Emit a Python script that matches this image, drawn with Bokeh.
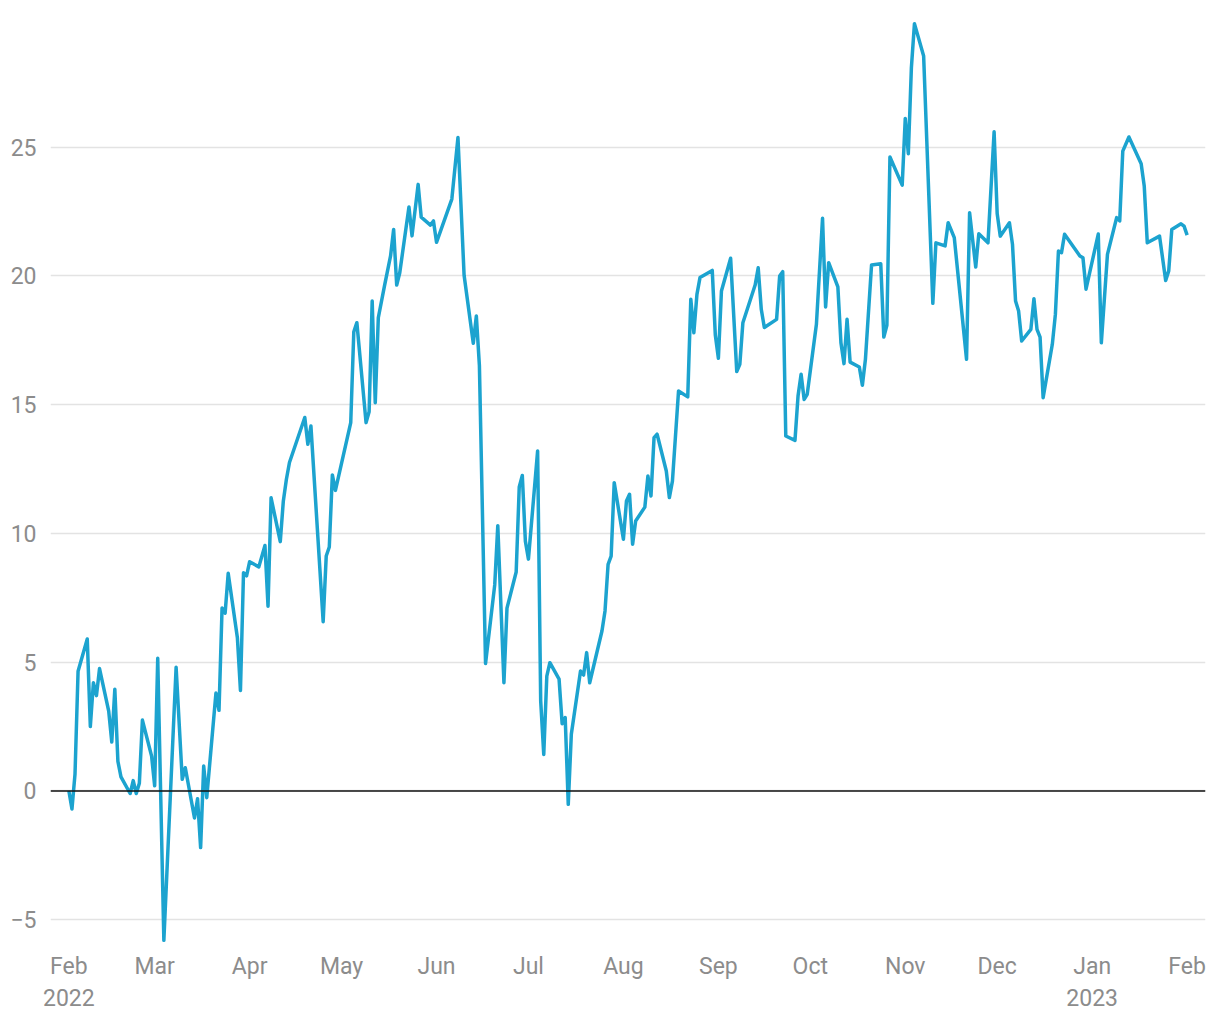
import pandas as pd
from bokeh.plotting import figure
from bokeh.models import Span, FixedTicker, Range1d, ColumnDataSource
from bokeh.embed import file_html
from bokeh.resources import INLINE

dates = [
    "2022-02-01", "2022-02-02", "2022-02-03", "2022-02-04", "2022-02-07", "2022-02-08", "2022-02-09",
    "2022-02-10", "2022-02-11", "2022-02-14", "2022-02-15", "2022-02-16", "2022-02-17", "2022-02-18",
    "2022-02-21", "2022-02-22", "2022-02-23", "2022-02-24", "2022-02-25", "2022-02-28", "2022-03-01",
    "2022-03-02", "2022-03-04", "2022-03-08", "2022-03-10", "2022-03-11", "2022-03-14", "2022-03-15",
    "2022-03-16", "2022-03-17", "2022-03-18", "2022-03-21", "2022-03-22", "2022-03-23", "2022-03-24",
    "2022-03-25", "2022-03-28", "2022-03-29", "2022-03-30", "2022-03-31", "2022-04-01", "2022-04-04",
    "2022-04-06", "2022-04-07", "2022-04-08", "2022-04-11", "2022-04-12", "2022-04-13", "2022-04-14",
    "2022-04-19", "2022-04-20", "2022-04-21", "2022-04-25", "2022-04-26", "2022-04-27", "2022-04-28",
    "2022-04-29", "2022-05-04", "2022-05-05", "2022-05-06", "2022-05-09", "2022-05-10", "2022-05-11",
    "2022-05-12", "2022-05-13", "2022-05-15", "2022-05-17", "2022-05-18", "2022-05-19", "2022-05-20",
    "2022-05-23", "2022-05-24", "2022-05-26", "2022-05-27", "2022-05-30", "2022-05-31", "2022-06-01",
    "2022-06-06", "2022-06-08", "2022-06-10", "2022-06-13", "2022-06-14", "2022-06-15", "2022-06-17",
    "2022-06-20", "2022-06-21", "2022-06-23", "2022-06-24", "2022-06-27", "2022-06-28", "2022-06-29",
    "2022-06-30", "2022-07-01", "2022-07-04", "2022-07-05", "2022-07-06", "2022-07-07", "2022-07-08",
    "2022-07-11", "2022-07-12", "2022-07-13", "2022-07-14", "2022-07-15", "2022-07-18", "2022-07-19",
    "2022-07-20", "2022-07-21", "2022-07-25", "2022-07-26", "2022-07-27", "2022-07-28", "2022-07-29",
    "2022-08-01", "2022-08-02", "2022-08-03", "2022-08-04", "2022-08-05", "2022-08-08", "2022-08-09",
    "2022-08-10", "2022-08-11", "2022-08-12", "2022-08-15", "2022-08-16", "2022-08-17", "2022-08-19",
    "2022-08-22", "2022-08-23", "2022-08-24", "2022-08-25", "2022-08-26", "2022-08-30", "2022-08-31",
    "2022-09-01", "2022-09-02", "2022-09-05", "2022-09-07", "2022-09-08", "2022-09-09", "2022-09-13",
    "2022-09-14", "2022-09-15", "2022-09-16", "2022-09-20", "2022-09-21", "2022-09-22", "2022-09-23",
    "2022-09-26", "2022-09-27", "2022-09-28", "2022-09-29", "2022-09-30", "2022-10-03", "2022-10-05",
    "2022-10-06", "2022-10-07", "2022-10-10", "2022-10-11", "2022-10-12", "2022-10-13", "2022-10-14",
    "2022-10-17", "2022-10-18", "2022-10-19", "2022-10-21", "2022-10-24", "2022-10-25", "2022-10-26",
    "2022-10-27", "2022-10-31", "2022-11-01", "2022-11-02", "2022-11-03", "2022-11-04", "2022-11-07",
    "2022-11-10", "2022-11-11", "2022-11-14", "2022-11-15", "2022-11-17", "2022-11-21", "2022-11-22",
    "2022-11-24", "2022-11-25", "2022-11-28", "2022-11-30", "2022-12-01", "2022-12-02", "2022-12-05",
    "2022-12-06", "2022-12-07", "2022-12-08", "2022-12-09", "2022-12-12", "2022-12-13", "2022-12-14",
    "2022-12-15", "2022-12-16", "2022-12-19", "2022-12-20", "2022-12-21", "2022-12-22", "2022-12-23",
    "2022-12-28", "2022-12-29", "2022-12-30", "2023-01-03", "2023-01-04", "2023-01-06", "2023-01-09",
    "2023-01-10", "2023-01-11", "2023-01-13", "2023-01-17", "2023-01-18", "2023-01-19", "2023-01-23",
    "2023-01-25", "2023-01-26", "2023-01-27", "2023-01-30", "2023-01-31", "2023-02-01",
]

values = [
    0.0, -0.7, 0.65, 4.65, 5.9, 2.5, 4.2,
    3.7, 4.75, 3.1, 1.9, 3.95, 1.15, 0.55,
    -0.1, 0.4, -0.1, 0.3, 2.75, 1.35, 0.2,
    5.15, -5.8, 4.8, 0.45, 0.9, -1.05, -0.3,
    -2.2, 0.97, -0.26, 3.8, 3.13, 7.1, 6.9,
    8.45, 5.95, 3.9, 8.47, 8.35, 8.9, 8.7,
    9.53, 7.17, 11.38, 9.68, 11.26, 12.1, 12.75,
    14.5, 13.46, 14.17, 6.57, 9.12, 9.47, 12.27,
    11.67, 14.3, 17.83, 18.18, 14.3, 14.72, 19.02,
    15.07, 18.37, 19.6, 20.77, 21.8, 19.64, 20.12,
    22.67, 21.55, 23.55, 22.28, 21.97, 22.13, 21.3,
    22.98, 25.37, 20.02, 17.38, 18.44, 16.5, 4.95,
    8.0, 10.3, 4.2, 7.1, 8.5, 11.8, 12.25,
    9.7, 9.0, 13.2, 3.5, 1.42, 4.46, 4.98,
    4.34, 2.61, 2.85, -0.52, 2.2, 4.66, 4.5,
    5.37, 4.2, 6.21, 6.99, 8.8, 9.12, 11.97,
    9.77, 11.26, 11.52, 9.58, 10.48, 11.02, 12.23,
    11.45, 13.72, 13.85, 12.42, 11.39, 12.03, 15.53,
    15.3, 19.09, 17.79, 19.28, 19.93, 20.21, 17.7,
    16.8, 19.41, 20.68, 16.28, 16.56, 18.18, 19.64,
    20.31, 18.7, 17.99, 18.31, 19.99, 20.16, 13.78,
    13.61, 15.33, 16.18, 15.2, 15.4, 18.12, 22.23,
    18.79, 20.51, 19.57, 17.4, 16.59, 18.31, 16.65,
    16.46, 15.75, 16.76, 20.42, 20.47, 17.62, 18.08,
    24.61, 23.52, 26.11, 24.74, 28.08, 29.79, 28.53,
    18.93, 21.28, 21.16, 22.06, 21.48, 16.76, 22.45,
    20.34, 21.63, 21.28, 25.59, 22.42, 21.54, 22.06,
    21.22, 19.02, 18.63, 17.47, 17.92, 19.11, 17.92,
    17.62, 15.27, 17.34, 18.5, 20.96, 20.9, 21.61,
    20.77, 20.7, 19.48, 21.62, 17.4, 20.83, 22.26,
    22.13, 24.84, 25.39, 24.35, 23.49, 21.28, 21.54,
    19.82, 20.19, 21.8, 22.02, 21.93, 21.58,
]

tick_dates = ["2022-02-01", "2022-03-01", "2022-04-01", "2022-05-01", "2022-06-01", "2022-07-01",
              "2022-08-01", "2022-09-01", "2022-10-01", "2022-11-01", "2022-12-01", "2023-01-01",
              "2023-02-01"]
tick_labels = ["Feb\n2022", "Mar", "Apr", "May", "Jun", "Jul", "Aug", "Sep", "Oct", "Nov", "Dec",
               "Jan\n2023", "Feb"]
y_ticks = [-5, 0, 5, 10, 15, 20, 25]
y_labels = ["\u22125", "0", "5", "10", "15", "20", "25"]


def ms(s):
    return int(pd.Timestamp(s).value // 10**6)


src = ColumnDataSource(dict(date=pd.to_datetime(dates), value=values))

p = figure(width=1220, height=1020, x_axis_type="datetime", output_backend="svg",
           toolbar_location=None,
           x_range=Range1d(ms("2022-01-26"), ms("2023-02-07")),
           y_range=Range1d(-6.0, 30.3),
           min_border_left=50, min_border_right=15, min_border_top=10, min_border_bottom=75)
p.outline_line_color = None
p.background_fill_color = "white"
p.border_fill_color = "white"

p.line("date", "value", source=src, line_color="#1ca3cf", line_width=3.5, line_join="round")

p.add_layout(Span(location=0, dimension="width", line_color="#111111", line_width=1.6))

p.xaxis.ticker = FixedTicker(ticks=[ms(d) for d in tick_dates])
p.xaxis.major_label_overrides = {ms(d): l for d, l in zip(tick_dates, tick_labels)}
p.yaxis.ticker = FixedTicker(ticks=y_ticks)
p.yaxis.major_label_overrides = {t: l for t, l in zip(y_ticks, y_labels)}

for ax in (p.xaxis, p.yaxis):
    ax.axis_line_color = None
    ax.major_tick_line_color = None
    ax.minor_tick_line_color = None
    ax.major_label_text_font = "Roboto"
    ax.major_label_text_font_size = "23px"
    ax.major_label_text_color = "#8c8c8c"

p.xaxis.major_label_standoff = 1
p.yaxis.major_label_standoff = 8

p.xgrid.grid_line_color = None
p.ygrid.grid_line_color = "#e3e3e3"
p.ygrid.grid_line_width = 1.5

open("out.html", "w").write(file_html(p, INLINE))
